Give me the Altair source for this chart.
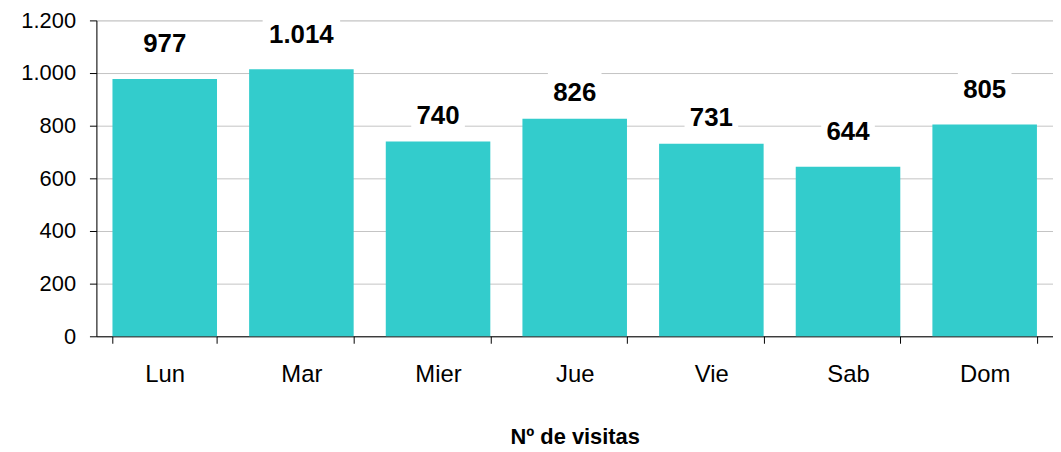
import altair as alt
import pandas as pd

dias = ["Lun", "Mar", "Mier", "Jue", "Vie", "Sab", "Dom"]
visitas = [977, 1014, 740, 826, 731, 644, 805]
etiquetas = ["977", "1.014", "740", "826", "731", "644", "805"]
dias_etiqueta_baja = ["Mier", "Jue", "Vie"]

df = pd.DataFrame({"dia": dias, "visitas": visitas, "etiqueta": etiquetas})

FONT = "Liberation Sans"
NARROW = "M-0.9,-0.7 L0.9,-0.7 L0.9,0.433 L-0.9,0.433 Z"
WIDE = "M-1.3,-0.7 L1.3,-0.7 L1.3,0.433 L-1.3,0.433 Z"

x_enc = alt.X(
    "dia:N",
    sort=dias,
    scale=alt.Scale(paddingInner=0.235, paddingOuter=0.1175),
    axis=alt.Axis(
        title="Nº de visitas",
        labelAngle=0,
        labelFont=FONT,
        labelFontSize=24,
        labelColor="#000000",
        labelPadding=20,
        labelBaseline="top",
        tickBand="extent",
        tickSize=7,
        tickColor="#000000",
        domainColor="#000000",
        titleFont=FONT,
        titleFontSize=22,
        titleFontWeight="bold",
        titleColor="#000000",
        titleBaseline="alphabetic",
        titleY=108,
        grid=False,
    ),
)
y_enc = alt.Y(
    "visitas:Q",
    scale=alt.Scale(domain=[0, 1200], nice=False),
    axis=alt.Axis(
        title=None,
        values=[0, 200, 400, 600, 800, 1000, 1200],
        labelExpr="replace(format(datum.value, ','), ',', '.')",
        labelFont=FONT,
        labelFontSize=22,
        labelColor="#000000",
        labelPadding=14,
        tickSize=7,
        tickColor="#000000",
        domainColor="#000000",
        grid=True,
        gridColor="#c4c4c4",
        gridWidth=1,
    ),
)

base = alt.Chart(df)

bars = base.mark_bar(color="#33CCCC").encode(x=x_enc, y=y_enc)


def labels(filter_expr, off):
    sub = base.transform_filter(filter_expr)
    box = sub.mark_point(
        filled=True, color="white", opacity=1, size=3600, strokeWidth=0, yOffset=off
    ).encode(
        x=alt.X("dia:N", sort=dias),
        y="visitas:Q",
        shape=alt.condition("datum.visitas >= 1000", alt.value(WIDE), alt.value(NARROW)),
    )
    txt = sub.mark_text(
        font=FONT, fontSize=26, fontWeight="bold", color="#000000",
        baseline="middle", dy=off,
    ).encode(x=alt.X("dia:N", sort=dias), y="visitas:Q", text="etiqueta:N")
    return [box, txt]


low_test = "indexof(" + str(dias_etiqueta_baja) + ", datum.dia) >= 0"
high_test = "indexof(" + str(dias_etiqueta_baja) + ", datum.dia) < 0"

layers = [bars] + labels(high_test, -35) + labels(low_test, -26)

chart = alt.layer(*layers).properties(
    width=963,
    height=318,
    padding={"left": 89, "top": 11, "right": 0, "bottom": 114},
    autosize=alt.AutoSizeParams(type="none"),
).configure_view(stroke=None).configure(background="white")

chart.save("out.html", embed_options={"renderer": "svg", "actions": False})
